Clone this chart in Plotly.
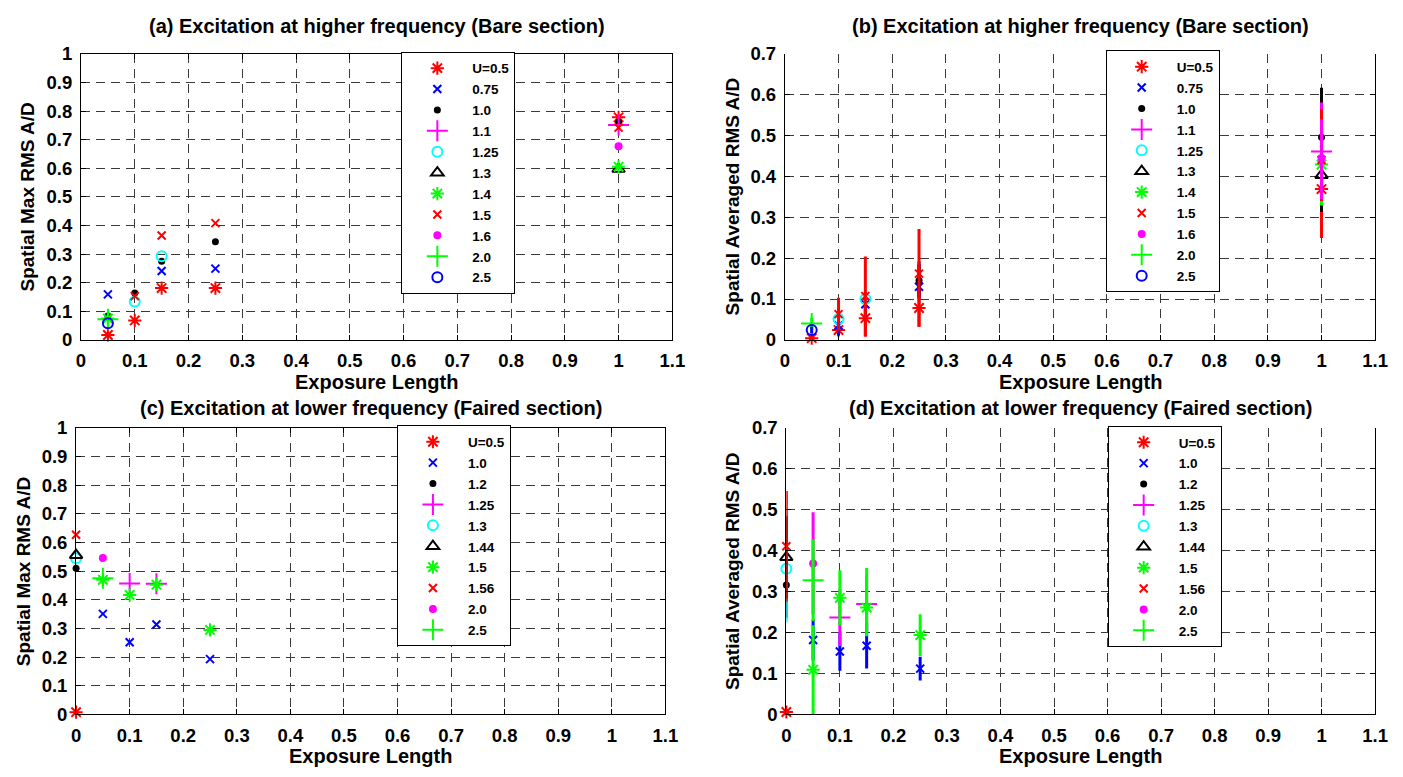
import plotly.graph_objects as go

W, H = 1403, 777
FONT = "Liberation Sans, Arial, sans-serif"

# ---------------- data ----------------
x_top = [0.05, 0.1, 0.15, 0.25, 1.0]
x_bot = [0.0, 0.05, 0.1, 0.15, 0.25]
x_ticks = [0, 0.1, 0.2, 0.3, 0.4, 0.5, 0.6, 0.7, 0.8, 0.9, 1.0, 1.1]
x_ticklabels = ["0", "0.1", "0.2", "0.3", "0.4", "0.5", "0.6", "0.7", "0.8", "0.9", "1", "1.1"]
y_ticks_max = [0, 0.1, 0.2, 0.3, 0.4, 0.5, 0.6, 0.7, 0.8, 0.9, 1.0]
y_ticklabels_max = ["0", "0.1", "0.2", "0.3", "0.4", "0.5", "0.6", "0.7", "0.8", "0.9", "1"]
y_ticks_avg = [0, 0.1, 0.2, 0.3, 0.4, 0.5, 0.6, 0.7]
y_ticklabels_avg = ["0", "0.1", "0.2", "0.3", "0.4", "0.5", "0.6", "0.7"]

names_top = ["U=0.5", "0.75", "1.0", "1.1", "1.25", "1.3", "1.4", "1.5", "1.6", "2.0", "2.5"]
names_bot = ["U=0.5", "1.0", "1.2", "1.25", "1.3", "1.44", "1.5", "1.56", "2.0", "2.5"]

# (a) spatial max, bare section
a_05 = [0.017, 0.068, 0.181, 0.181, 0.778]
a_075 = [0.159, None, 0.241, 0.249, None]
a_10 = [0.083, 0.164, 0.275, 0.343, 0.762]
a_11 = [None, None, None, None, 0.751]
a_125 = [None, 0.134, 0.292, None, None]
a_13 = [None, None, None, None, 0.597]
a_14 = [0.075, None, None, None, 0.605]
a_15 = [None, 0.153, 0.365, 0.408, 0.742]
a_16 = [None, None, None, None, 0.677]
a_20 = [0.072, None, None, None, None]
a_25 = [0.058, None, None, None, None]

# (b) spatial averaged, bare section  (value, +err, -err)
b_05 = [0.004, 0.024, 0.053, 0.078, 0.369]
b_05_ep = [0.004, 0.012, 0.045, 0.046, 0.12]
b_05_em = [0.004, 0.012, 0.045, 0.046, 0.12]
b_075 = [None, 0.035, 0.087, 0.13, None]
b_075_ep = [0, 0.025, 0.03, 0.062, 0]
b_075_em = [0, 0.025, 0.03, 0.03, 0]
b_10 = [None, None, None, 0.145, 0.496]
b_10_ep = [0, 0, 0, 0.04, 0.121]
b_10_em = [0, 0, 0, 0.04, 0.121]
b_11 = [None, None, None, None, 0.461]
b_11_ep = [0, 0, 0, 0, 0.12]
b_11_em = [0, 0, 0, 0, 0.1]
b_125 = [None, 0.051, 0.1, None, None]
b_125_ep = [0, 0.01, 0.015, 0, 0]
b_125_em = [0, 0.01, 0.015, 0, 0]
b_13 = [None, None, None, None, 0.403]
b_13_ep = [0, 0, 0, 0, 0.09]
b_13_em = [0, 0, 0, 0, 0.09]
b_14 = [None, None, None, None, 0.429]
b_14_ep = [0, 0, 0, 0, 0.1]
b_14_em = [0, 0, 0, 0, 0.1]
b_15 = [None, 0.063, 0.107, 0.162, 0.44]
b_15_ep = [0, 0.04, 0.097, 0.109, 0.125]
b_15_em = [0, 0.04, 0.099, 0.13, 0.1]
b_16 = [None, None, None, None, 0.445]
b_16_ep = [0, 0, 0, 0, 0.095]
b_16_em = [0, 0, 0, 0, 0.1]
b_20 = [0.04, None, None, None, None]
b_20_ep = [0.015, 0, 0, 0, 0]
b_20_em = [0.015, 0, 0, 0, 0]
b_25 = [0.024, None, None, None, None]
b_25_ep = [0.008, 0, 0, 0, 0]
b_25_em = [0.008, 0, 0, 0, 0]

# (c) spatial max, faired section
c_05 = [0.008, None, None, None, None]
c_10 = [None, 0.351, 0.252, 0.314, 0.193]
c_12 = [0.51, None, None, None, None]
c_125 = [None, None, 0.457, 0.456, None]
c_13 = [0.545, None, None, None, None]
c_144 = [0.556, None, None, None, None]
c_15 = [None, 0.47, 0.417, 0.453, 0.295]
c_156 = [0.627, None, None, None, None]
c_20 = [None, 0.546, None, None, None]
c_25 = [None, 0.475, None, None, None]

# (d) spatial averaged, faired section  (value, +err, -err)
d_05 = [0.006, None, None, None, None]
d_05_ep = [0.006, 0, 0, 0, 0]
d_05_em = [0.006, 0, 0, 0, 0]
d_10 = [None, 0.182, 0.154, 0.168, 0.112]
d_10_ep = [0, 0.05, 0.047, 0.056, 0.029]
d_10_em = [0, 0.05, 0.047, 0.056, 0.029]
d_12 = [0.316, None, None, None, None]
d_12_ep = [0.08, 0, 0, 0, 0]
d_12_em = [0.08, 0, 0, 0, 0]
d_125 = [None, None, 0.237, 0.27, None]
d_125_ep = [0, 0, 0.07, 0.07, 0]
d_125_em = [0, 0, 0.07, 0.07, 0]
d_13 = [0.356, None, None, None, None]
d_13_ep = [0.13, 0, 0, 0, 0]
d_13_em = [0.13, 0, 0, 0, 0]
d_144 = [0.384, None, None, None, None]
d_144_ep = [0.1, 0, 0, 0, 0]
d_144_em = [0.1, 0, 0, 0, 0]
d_15 = [None, 0.109, 0.285, 0.261, 0.194]
d_15_ep = [0, 0.109, 0.067, 0.097, 0.051]
d_15_em = [0, 0.109, 0.067, 0.07, 0.051]
d_156 = [0.411, None, None, None, None]
d_156_ep = [0.135, 0, 0, 0, 0]
d_156_em = [0.135, 0, 0, 0, 0]
d_20 = [None, 0.369, None, None, None]
d_20_ep = [0, 0.125, 0, 0, 0]
d_20_em = [0, 0.125, 0, 0, 0]
d_25 = [None, 0.328, None, None, None]
d_25_ep = [0, 0.1, 0, 0, 0]
d_25_em = [0, 0.1, 0, 0, 0]

# ---------------- styles ----------------
RED, BLUE, BLACK, MAG, CYAN, LIME = "#ff0000", "#0000ff", "#000000", "#ff00ff", "#00ffff", "#00ff00"
STAR = ("asterisk-open", 11)
XM = ("x-thin-open", 8)
DOT = ("circle", 7)
PLUS = ("cross-thin-open", 15)
CIRC = ("circle-open", 10)
TRI = ("triangle-up-open", 11)
DOT2 = ("circle", 8)

styles_top = [(STAR, RED), (XM, BLUE), (DOT, BLACK), (PLUS, MAG), (CIRC, CYAN), (TRI, BLACK),
              (STAR, LIME), (XM, RED), (DOT2, MAG), (PLUS, LIME), (CIRC, BLUE)]
styles_bot = [(STAR, RED), (XM, BLUE), (DOT, BLACK), (PLUS, MAG), (CIRC, CYAN), (TRI, BLACK),
              (STAR, LIME), (XM, RED), (DOT2, MAG), (PLUS, LIME)]

series_a = [a_05, a_075, a_10, a_11, a_125, a_13, a_14, a_15, a_16, a_20, a_25]
series_b = [(b_05, b_05_ep, b_05_em), (b_075, b_075_ep, b_075_em), (b_10, b_10_ep, b_10_em),
            (b_11, b_11_ep, b_11_em), (b_125, b_125_ep, b_125_em), (b_13, b_13_ep, b_13_em),
            (b_14, b_14_ep, b_14_em), (b_15, b_15_ep, b_15_em), (b_16, b_16_ep, b_16_em),
            (b_20, b_20_ep, b_20_em), (b_25, b_25_ep, b_25_em)]
series_c = [c_05, c_10, c_12, c_125, c_13, c_144, c_15, c_156, c_20, c_25]
series_d = [(d_05, d_05_ep, d_05_em), (d_10, d_10_ep, d_10_em), (d_12, d_12_ep, d_12_em),
            (d_125, d_125_ep, d_125_em), (d_13, d_13_ep, d_13_em), (d_144, d_144_ep, d_144_em),
            (d_15, d_15_ep, d_15_em), (d_156, d_156_ep, d_156_em), (d_20, d_20_ep, d_20_em),
            (d_25, d_25_ep, d_25_em)]


def marker_for(style):
    (sym, size), color = style
    filled = sym == "circle"
    return dict(symbol=sym, size=size, color=color,
                line=dict(color=color, width=0 if filled else 2))


fig = go.Figure()


def add(x, y, name, style, xa, ya, legend, ep=None, em=None):
    kw = {}
    if ep is not None:
        kw["error_y"] = dict(type="data", symmetric=False, array=ep, arrayminus=em,
                             width=0, thickness=3, color=style[1])
    fig.add_trace(go.Scatter(
        x=x, y=y, mode="markers", name=name, marker=marker_for(style),
        xaxis=xa, yaxis=ya, legend=legend, legendgroup=legend + name,
        cliponaxis=False, hoverinfo="x+y+name", **kw))


for name, st, y in zip(names_top, styles_top, series_a):
    add(x_top, y, name, st, "x", "y", "legend")
for name, st, (y, ep, em) in zip(names_top, styles_top, series_b):
    add(x_top, y, name, st, "x2", "y2", "legend2", ep, em)
for name, st, y in zip(names_bot, styles_bot, series_c):
    add(x_bot, y, name, st, "x3", "y3", "legend3")
for name, st, (y, ep, em) in zip(names_bot, styles_bot, series_d):
    add(x_bot, y, name, st, "x4", "y4", "legend4", ep, em)


def px(v):
    return v / W


def py(v):
    return 1 - v / H


tickfont = dict(family=FONT, size=18.5, color="black", weight="bold")
grid = dict(showgrid=True, gridcolor="#3a3a3a", gridwidth=1, griddash="9px,6px",
            showline=True, linecolor="black", linewidth=1, ticks="inside", ticklen=5,
            tickcolor="black", tickwidth=1, tickfont=tickfont, zeroline=False)


def xaxis(dom, anchor, mirror):
    return dict(domain=dom, anchor=anchor, range=[0, 1.1], tickvals=x_ticks,
                ticktext=x_ticklabels, mirror=mirror, ticklabelstandoff=4, **grid)


def yaxis(dom, anchor, rng, tv, tt):
    return dict(domain=dom, anchor=anchor, range=rng, tickvals=tv, ticktext=tt,
                mirror="ticks", ticklabelstandoff=4, **grid)


top_dom = [py(338), py(44)]
bot_dom = [py(723), py(428.5)]
fig.update_layout(
    xaxis=xaxis([px(77), px(676)], "y", "ticks"),
    yaxis=yaxis(top_dom, "x", [0, 1], y_ticks_max, y_ticklabels_max),
    xaxis2=xaxis([px(790), px(1388)], "y2", False),
    yaxis2=yaxis(top_dom, "x2", [0, 0.7], y_ticks_avg, y_ticklabels_avg),
    xaxis3=xaxis([px(72), px(669)], "y3", "ticks"),
    yaxis3=yaxis(bot_dom, "x3", [0, 1], y_ticks_max, y_ticklabels_max),
    xaxis4=xaxis([px(791.5), px(1388)], "y4", False),
    yaxis4=yaxis(bot_dom, "x4", [0, 0.7], y_ticks_avg, y_ticklabels_avg),
)

legend_base = dict(bgcolor="white", bordercolor="black", borderwidth=1,
                   font=dict(family=FONT, size=13.5, color="black", weight="bold"),
                   itemwidth=60, tracegroupgap=0.35, xanchor="left", yanchor="top")
fig.update_layout(
    legend=dict(x=px(401.5), y=py(42), **legend_base),
    legend2=dict(x=px(1115), y=py(40.5), **legend_base),
    legend3=dict(x=px(397), y=py(426), **legend_base),
    legend4=dict(x=px(1117), y=py(426.5), **legend_base),
)

titles = [
    ("(a) Excitation at higher frequency (Bare section)", (77 + 676) / 2, 15.5),
    ("(b) Excitation at higher frequency (Bare section)", (790 + 1388) / 2, 15.5),
    ("(c) Excitation at lower frequency (Faired section)", (72 + 669) / 2, 408),
    ("(d) Excitation at lower frequency (Faired section)", (791.5 + 1388) / 2, 408),
]
annotations = []
for text, cx, cy in titles:
    annotations.append(dict(text=text, x=px(cx), y=py(cy), xref="paper", yref="paper",
                            showarrow=False, xanchor="center", yanchor="middle",
                            font=dict(family=FONT, size=20, color="black", weight="bold")))
for cx, cy in [((77 + 676) / 2, 381), ((790 + 1388) / 2, 381),
               ((72 + 669) / 2, 766), ((791.5 + 1388) / 2, 766)]:
    annotations.append(dict(text="Exposure Length", x=px(cx), y=py(cy), xref="paper",
                            yref="paper", showarrow=False, xanchor="center", yanchor="middle",
                            font=dict(family=FONT, size=20, color="black", weight="bold")))
for text, cx, cy in [("Spatial Max RMS A/D", 23, 191), ("Spatial Averaged RMS A/D", 737, 191),
                     ("Spatial Max RMS A/D", 19, 576), ("Spatial Averaged RMS A/D", 737, 576)]:
    annotations.append(dict(text=text, x=px(cx), y=py(cy), xref="paper", yref="paper",
                            showarrow=False, xanchor="center", yanchor="middle", textangle=-90,
                            font=dict(family=FONT, size=19, color="black", weight="bold")))

fig.update_layout(
    width=W, height=H, margin=dict(l=0, r=0, t=0, b=0),
    paper_bgcolor="white", plot_bgcolor="white",
    annotations=annotations, showlegend=True,
)

fig.write_html(
    "out.html",
    config={"displayModeBar": False},
    post_script=(
        "document.documentElement.style.margin='0px';"
        "document.body.style.margin='0px';document.body.style.padding='0px';"
        "document.body.style.overflow='hidden';"
    ),
)
